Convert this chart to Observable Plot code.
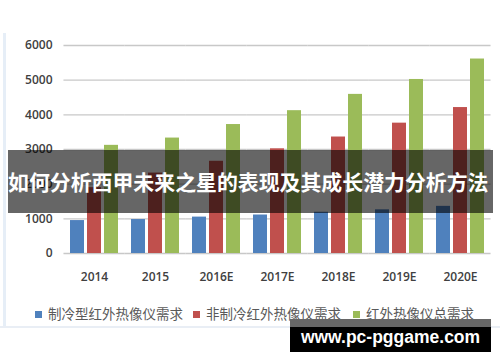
<!DOCTYPE html>
<html>
<head>
<meta charset="utf-8">
<script src="https://cdn.jsdelivr.net/npm/d3@7"></script>
<script src="https://cdn.jsdelivr.net/npm/@observablehq/plot@0.6"></script>
<style>
  html, body { margin: 0; padding: 0; background: #fff; }
  #wrap { position: relative; width: 500px; height: 362px; overflow: hidden; }
  #wrap svg { position: absolute; left: 0; top: 0; }
  .abs { position: absolute; }
  #legend { left: 0; top: 303px; width: 500px; height: 20px; font-family: "Noto Sans CJK SC", sans-serif; font-size: 13.5px; color: #595959; }
  .li { position: absolute; top: 0; line-height: 20px; white-space: nowrap; }
  .sw { display: inline-block; width: 7px; height: 7px; margin-right: 6px; vertical-align: 1px; }
  #banner { left: 8px; top: 150px; width: 485px; height: 63px; background: rgba(0,0,0,0.6); }
  #title { left: 8px; top: 150px; width: 485px; height: 63px; line-height: 63px; font-family: "Noto Sans CJK SC", sans-serif; font-weight: bold; font-size: 20.9px; color: #fff; white-space: nowrap; }
  #wm1 { left: 290px; top: 319px; width: 201px; height: 8px; background: #666; }
  #wm2 { left: 290px; top: 327px; width: 201px; height: 25px; background: #000; }
  #wmt { left: 290px; top: 319px; width: 201px; height: 33px; line-height: 36px; text-align: center; font-family: "Liberation Sans", Arial, sans-serif; font-weight: bold; font-size: 17.5px; color: #fff; white-space: nowrap; }
  #frameL { left: 3px; top: 33px; width: 3px; height: 294px; background: #e6eef7; }
  #frameB { left: 0; top: 326px; width: 500px; height: 2px; background: #e9eef5; }
</style>
</head>
<body>
<div id="wrap"></div>
<script>
const categories = ["2014", "2015", "2016E", "2017E", "2018E", "2019E", "2020E"];
const seriesNames = ["制冷型红外热像仪需求", "非制冷红外热像仪需求", "红外热像仪总需求"];
const cooled = [950, 980, 1050, 1110, 1190, 1260, 1360];
const uncooled = [1900, 2320, 2660, 3020, 3360, 3760, 4210];
const total = [3120, 3330, 3720, 4120, 4590, 5020, 5610];
const yTicks = [0, 1000, 2000, 3000, 4000, 5000, 6000];
const colors = ["#4f81bd", "#c0504d", "#9bbb59"];
const titleText = "如何分析西甲未来之星的表现及其成长潜力分析方法";
const watermark = "www.pc-pggame.com";

const seriesValues = [cooled, uncooled, total];
const rows = [];
categories.forEach((c, i) => {
  seriesNames.forEach((s, j) => rows.push({category: c, series: s, value: seriesValues[j][i]}));
});

const wrap = document.getElementById("wrap");

const chart = Plot.plot({
  width: 500,
  height: 362,
  marginLeft: 62,
  marginRight: 8,
  marginTop: 45,
  marginBottom: 109,
  style: {fontFamily: "'Open Sans', sans-serif", fontSize: "12px", fontWeight: 600, color: "#404040", background: "transparent"},
  fx: {domain: categories, paddingInner: 0.18, paddingOuter: 0.09, label: null, axis: "bottom", tickSize: 0, tickPadding: 19},
  x: {domain: seriesNames, paddingInner: 0.19, paddingOuter: 0, axis: null},
  y: {domain: [0, 6000], ticks: yTicks, tickSize: 0, tickPadding: 17, label: null, tickFormat: d => String(d)},
  color: {domain: seriesNames, range: colors},
  marks: [
    Plot.ruleY(yTicks, {y: d => d, stroke: "#c8c8c8", strokeWidth: 1.3, insetLeft: -5.55, insetRight: -5.55}),
    Plot.barY(rows, {fx: "category", x: "series", y: "value", fill: "series"})
  ]
});
wrap.appendChild(chart);

function addDiv(id, cls, text) {
  const d = document.createElement("div");
  d.id = id; d.className = cls;
  if (text) d.textContent = text;
  wrap.appendChild(d);
  return d;
}
addDiv("frameL", "abs");
addDiv("frameB", "abs");

const legend = addDiv("legend", "abs");
const legendX = [35, 193, 353];
seriesNames.forEach((s, i) => {
  const item = document.createElement("div");
  item.className = "li";
  item.style.left = legendX[i] + "px";
  const sw = document.createElement("span");
  sw.className = "sw";
  sw.style.background = colors[i];
  item.appendChild(sw);
  item.appendChild(document.createTextNode(s));
  legend.appendChild(item);
});

addDiv("banner", "abs");
addDiv("title", "abs", titleText);
addDiv("wm1", "abs");
addDiv("wm2", "abs");
addDiv("wmt", "abs", watermark);
</script>
</body>
</html>
